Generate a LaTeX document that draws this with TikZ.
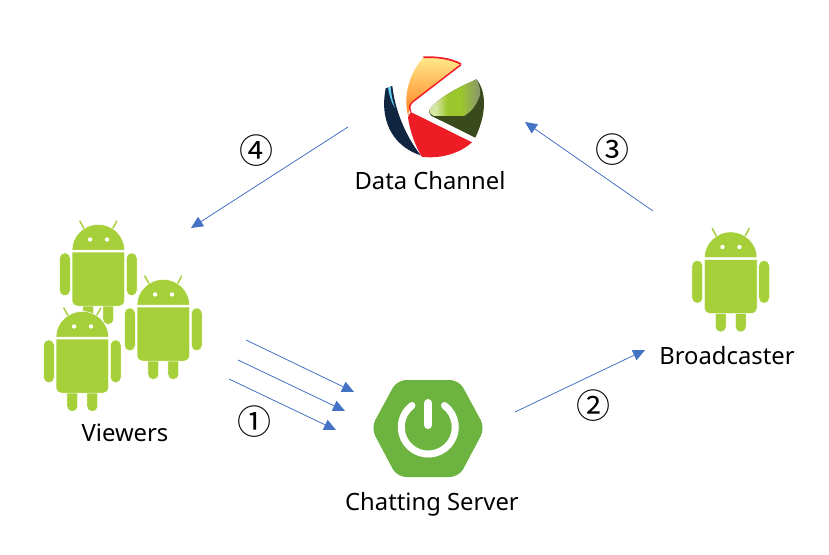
\documentclass[tikz,border=0pt]{standalone}
\usepackage{fontspec}
\setmainfont{Noto Sans}
\newfontfamily\cjkfont{Noto Sans CJK KR}
\usetikzlibrary{arrows.meta,shadings}
\definecolor{droid}{HTML}{A6D03A}
\definecolor{spring}{HTML}{6DB33F}
\definecolor{flow}{HTML}{4472C4}
\definecolor{navyk}{HTML}{10253F}
\definecolor{redk}{HTML}{EE1C25}
\definecolor{olivek}{HTML}{3A4A1C}
\definecolor{limek}{HTML}{9CC72C}
\definecolor{palek}{HTML}{D6E6A4}
\definecolor{greyk}{HTML}{8C9A68}
\pgfdeclarehorizontalshading{leafshade}{100bp}{color(0bp)=(palek); color(32bp)=(palek); color(43bp)=(limek); color(56bp)=(limek); color(72bp)=(greyk); color(100bp)=(greyk)}
\tikzset{
  x=1pt,y=-1pt,
  flowline/.style={draw=flow,line width=0.8pt,-{Triangle[length=12pt,width=11pt,fill=flow]}},
  lbl/.style={font=\fontsize{23.8}{26}\selectfont,text=black,inner sep=0pt,anchor=center},
  num/.style={font=\cjkfont\fontsize{34}{36}\selectfont,text=black,inner sep=0pt,anchor=center},
  droidpart/.style={fill=droid,draw=white,line width=0.5pt},
  pics/droid/.style={code={
    \draw[droid,line width=1.5pt,line cap=round] (-18.5,-30) -- (-13,-20);
    \draw[droid,line width=1.5pt,line cap=round] (18.5,-30) -- (13,-20);
    \path[droidpart] (-26.3,-0.8) arc[start angle=180,end angle=360,radius=26.3,y radius=25.8] -- cycle;
    \fill[white] (-8.2,-11.5) circle (2.2) (8.7,-11.5) circle (2.2);
    \path[droidpart,rounded corners=5pt] (-15.4,45) rectangle (-4.6,73.4);
    \path[droidpart,rounded corners=5pt] (4.6,45) rectangle (15.4,73.4);
    \path[droidpart,rounded corners=5.4pt] (-38.8,1.8) rectangle (-28,44.8);
    \path[droidpart,rounded corners=5.4pt] (28,1.8) rectangle (38.8,44.8);
    \path[droidpart] (-26.3,1.2) -- (26.3,1.2) -- (26.3,50) arc[start angle=0,end angle=90,radius=5] -- (-21.3,55) arc[start angle=90,end angle=180,radius=5] -- cycle;
  }}
}
\begin{document}
\begin{tikzpicture}
\useasboundingbox (0,0) rectangle (829,554);

% Data channel logo, drawn in a local frame
\begin{scope}[shift={(360,40)},x=0.3333pt,y=-0.3333pt]
  \path[top color=orange!35!yellow!45!white,bottom color=orange!85!red!90] (190,52) .. controls (230,50) and (270,55) .. (302,72) -- (158,185) .. controls (148,195) and (145,210) .. (146,232) .. controls (130,180) and (140,110) .. (190,52) -- cycle;
  \draw[redk,line width=1.5pt,line join=round] (152,215) .. controls (146,200) and (150,192) .. (160,184) -- (303,74);
  \draw[redk,line width=1.7pt] (190,52) .. controls (230,50) and (270,55) .. (303,72);
  \fill[redk] (152,216) -- (336,307) .. controls (300,340) and (240,358) .. (185,350) .. controls (165,315) and (150,275) .. (144,232) -- cycle;
  \fill[olivek] (350,118) .. controls (375,150) and (385,210) .. (346,293) -- (215,228) .. controls (205,220) and (205,210) .. (215,200) .. controls (250,165) and (300,140) .. (350,118) -- cycle;
  \shade[shading=leafshade,shading angle=0]
    (350,118) .. controls (358,135) and (362,150) .. (360,165) .. controls (350,195) and (335,215) .. (312,228) -- (222,228) .. controls (205,220) and (205,210) .. (215,200) .. controls (250,165) and (300,140) .. (350,118) -- cycle;
  \fill[navyk] (77,145) -- (97,138) .. controls (105,210) and (135,285) .. (182,346) .. controls (115,325) and (55,260) .. (77,145) -- cycle;
  \fill[cyan!60!white] (84,142) -- (92,140) .. controls (94,170) and (100,190) .. (106,205) .. controls (95,190) and (87,165) .. (84,142) -- cycle;
\end{scope}

% Spring logo
\path[fill=spring,rounded corners=9pt] (371,428) -- (397,380) -- (459,380) -- (485,428) -- (459,477) -- (397,477) -- cycle;
\draw[white,line width=7pt,line cap=round] (412,405.5) arc[start angle=233,end angle=-53,radius=27];
\draw[white,line width=8pt,line cap=round] (428.3,403) -- (428.3,425);

% Androids
\pic at (98.3,251) {droid};
\pic at (163.3,306) {droid};
\pic at (82.3,338) {droid};
\pic at (730.7,258.5) {droid};

% Labels
\node[lbl] (channel) at (430,181) {Data Channel};
\node[lbl] (broadcaster) at (727,356) {Broadcaster};
\node[lbl] (viewers) at (125,433) {Viewers};
\node[lbl] (server) at (432,504.5) {Chatting Server};

\node[num] (n1) at (254,421.5) {①};
\node[num] (n2) at (593,406) {②};
\node[num] (n3) at (612,150) {③};
\node[num] (n4) at (256,151) {④};

% Connector ends
\coordinate (a4s) at (348,127); \coordinate (a4e) at (191,228);
\coordinate (a3s) at (653,211); \coordinate (a3e) at (525,122);
\coordinate (a2s) at (515,412); \coordinate (a2e) at (645,350);
\coordinate (a1s) at (246,340); \coordinate (a1e) at (354,392);
\coordinate (b1s) at (238,360); \coordinate (b1e) at (345,411);
\coordinate (c1s) at (229,379); \coordinate (c1e) at (336,430);
\draw[flowline] (a4s) -- (a4e);
\draw[flowline] (a3s) -- (a3e);
\draw[flowline] (a2s) -- (a2e);
\draw[flowline] (a1s) -- (a1e);
\draw[flowline] (b1s) -- (b1e);
\draw[flowline] (c1s) -- (c1e);
\end{tikzpicture}
\end{document}
